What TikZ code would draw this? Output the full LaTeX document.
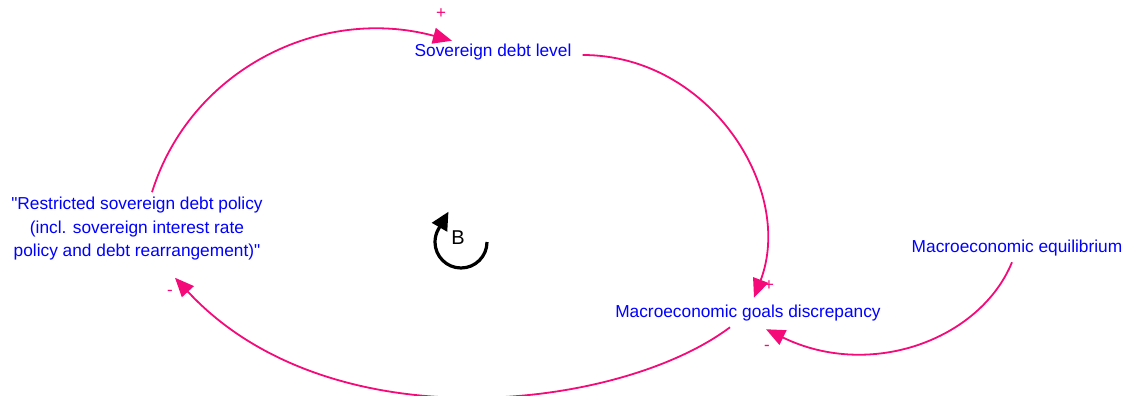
\documentclass[tikz,border=0pt]{standalone}
\usepackage{fontspec}
\setmainfont{Liberation Sans}
\usetikzlibrary{arrows.meta}
\definecolor{linkc}{RGB}{245,10,122}
\definecolor{txtc}{RGB}{0,0,255}
\tikzset{
  var/.style={text=txtc, font=\fontsize{17.3}{23.5}\selectfont, inner sep=2pt, align=center},
  conn/.style={draw=linkc, line width=1.8pt, -{Triangle[length=19pt,width=16pt]}},
  sign/.style={text=linkc, font=\fontsize{17}{17}\selectfont, inner sep=0pt},
}
\begin{document}
\begin{tikzpicture}[x=1pt,y=-1pt]
\useasboundingbox (0,0) rectangle (1122,396);
\clip (0,0) rectangle (1122,396);
\node[var] (sov) at (493,52) {Sovereign debt level};
\node[var] (restr) at (137,229) {\textquotedbl Restricted sovereign debt policy\\(incl. sovereign interest rate\\policy and debt rearrangement)\textquotedbl};
\node[var] (mgd) at (748,313) {Macroeconomic goals discrepancy};
\node[var] (meq) at (1017,248) {Macroeconomic equilibrium};
% connectors
\draw[conn] ([shift={(15,-3)}]restr.north) .. controls (190,70) and (320,5) .. ([shift={(-41,-1)}]sov.north);
\draw[conn] ([shift={(9,3)}]sov.east) .. controls (710,55) and (795,190) .. ([shift={(6,-5)}]mgd.north);
\draw[conn] ([shift={(-18,4)}]mgd.south) .. controls (620,410) and (330,445) .. ([shift={(38,15)}]restr.south);
\draw[conn] ([shift={(-5,4)}]meq.south) .. controls (980,340) and (870,380) .. ([shift={(18,6)}]mgd.south);
% polarity signs
\node[sign] (s1) at (441,14) {+};
\node[sign] (s2) at (769,286) {+};
\node[sign] (s3) at (170,293) {-};
\node[sign] (s4) at (767,348) {-};
% loop symbol
\node[font=\fontsize{20}{22}\selectfont, inner sep=0pt] (B) at (458,238) {B};
\draw[line width=3.2pt, -{Triangle[length=18pt,width=17pt]}] (487,242) arc[start angle=0, end angle=210, radius=26] -- ++(10,-17.3);
\end{tikzpicture}
\end{document}
